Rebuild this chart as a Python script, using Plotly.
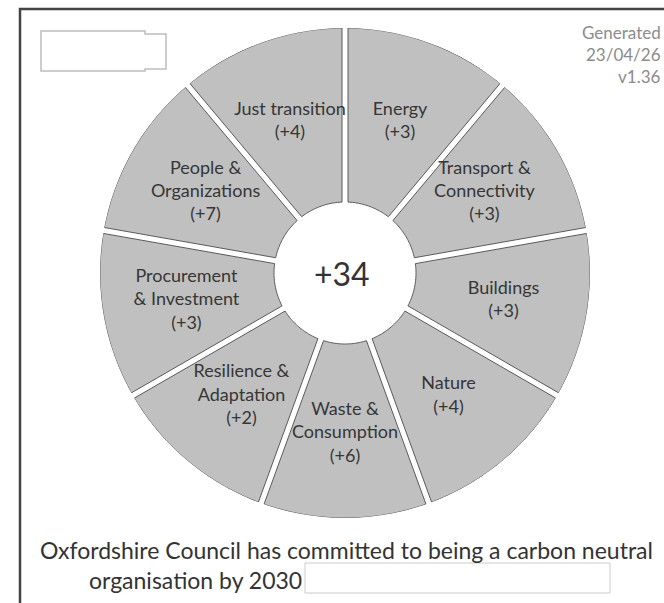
import numpy as np
import plotly.graph_objects as go

# ---- data ----
categories = ["Energy", "Transport &<br>Connectivity", "Buildings", "Nature",
              "Waste &<br>Consumption", "Resilience &<br>Adaptation",
              "Procurement<br>& Investment", "People &<br>Organizations",
              "Just transition"]
scores = [3, 3, 3, 4, 6, 2, 3, 7, 4]
total_score = 34
meta_lines = ["Generated", "23/04/26", "v1.36"]
footer_line1 = "Oxfordshire Council has committed to being a carbon neutral"
footer_line2 = "organisation by 2030"

# ---- geometry / style ----
W, H = 664, 603
cx, cy = 345, 273          # pixel centre of the wheel (from top-left)
R_OUT, R_IN = 245, 71      # pixel radii (radial axis in pixel units)
HALF_GAP = 3.0
FILL = "#c0c0c0"
EDGE = "#5a5a5a"
TXT = "#363636"
FONT = "Lato"

def px(x):
    return x / W

def py(y):
    return 1 - y / H

n = len(categories)
step = 360.0 / n

fig = go.Figure()

for i in range(n):
    a0, a1 = i * step, (i + 1) * step
    d_out = np.degrees(np.arcsin(HALF_GAP / R_OUT))
    d_in = np.degrees(np.arcsin(HALF_GAP / R_IN))
    th_out = np.linspace(a0 + d_out, a1 - d_out, 60)
    th_in = np.linspace(a1 - d_in, a0 + d_in, 30)
    theta = np.concatenate([th_out, th_in, th_out[:1]])
    r = np.concatenate([np.full(60, R_OUT), np.full(30, R_IN), [R_OUT]])
    fig.add_trace(go.Scatterpolar(
        r=r, theta=theta, mode="lines", fill="toself",
        fillcolor=FILL, line=dict(color=EDGE, width=1),
        hoverinfo="skip", showlegend=False))

labels = [f"{c}<br>(+{s})" for c, s in zip(categories, scores)]
mid = [(i + 0.5) * step for i in range(n)]
fig.add_trace(go.Scatterpolar(
    r=[161] * n, theta=mid, mode="text", text=labels,
    textfont=dict(family=FONT, size=18, color=TXT),
    hoverinfo="skip", showlegend=False))

fig.update_layout(
    width=W, height=H, autosize=False,
    margin=dict(l=0, r=0, t=0, b=0),
    paper_bgcolor="white", plot_bgcolor="white",
    polar=dict(
        domain=dict(x=[px(cx - R_OUT), px(cx + R_OUT)],
                    y=[py(cy + R_OUT), py(cy - R_OUT)]),
        bgcolor="rgba(0,0,0,0)",
        radialaxis=dict(range=[0, R_OUT], visible=False),
        angularaxis=dict(rotation=90, direction="clockwise", visible=False),
    ),
    showlegend=False,
)

shapes = [
    # frame
    dict(type="path", xref="paper", yref="paper",
         path=f"M {px(20)} {py(610)} L {px(20)} {py(9)} L {px(670)} {py(9)}",
         line=dict(color="#444444", width=2.5)),
    # top-left placeholder box
    dict(type="path", xref="paper", yref="paper",
         path=(f"M {px(41)} {py(31)} L {px(145)} {py(31)} L {px(145)} {py(34)} "
               f"L {px(166)} {py(34)} L {px(166)} {py(69)} L {px(145)} {py(69)} "
               f"L {px(145)} {py(71)} L {px(41)} {py(71)} Z"),
         line=dict(color="#bdbdbd", width=1.5), fillcolor="white"),
    # bottom placeholder box
    dict(type="rect", xref="paper", yref="paper",
         x0=px(305), x1=px(610), y0=py(593), y1=py(563),
         line=dict(color="#cccccc", width=1), fillcolor="white"),
]
fig.update_layout(shapes=shapes)

ann = [
    dict(text=f"+{total_score}", x=px(cx - 3), y=py(cy), xref="paper", yref="paper",
         showarrow=False, font=dict(family=FONT, size=32, color="#333333"),
         xanchor="center", yanchor="middle"),
    dict(text=footer_line1, x=px(347), y=py(550), xref="paper", yref="paper",
         showarrow=False, font=dict(family=FONT, size=23, color="#333333"),
         xanchor="center", yanchor="middle"),
    dict(text=footer_line2, x=px(304), y=py(580), xref="paper", yref="paper",
         showarrow=False, font=dict(family=FONT, size=23, color="#333333"),
         xanchor="right", yanchor="middle"),
]
for j, (t, yy) in enumerate(zip(meta_lines, [33, 54, 77])):
    ann.append(dict(text=t, x=px(663), y=py(yy), xref="paper", yref="paper",
                    showarrow=False, font=dict(family=FONT, size=17, color="#8c8c8c"),
                    xanchor="right", yanchor="middle"))
fig.update_layout(annotations=ann)

fig.write_html("out.html",
               config={"displayModeBar": False},
               post_script="document.body.style.margin='0px';document.body.style.overflow='hidden';")
